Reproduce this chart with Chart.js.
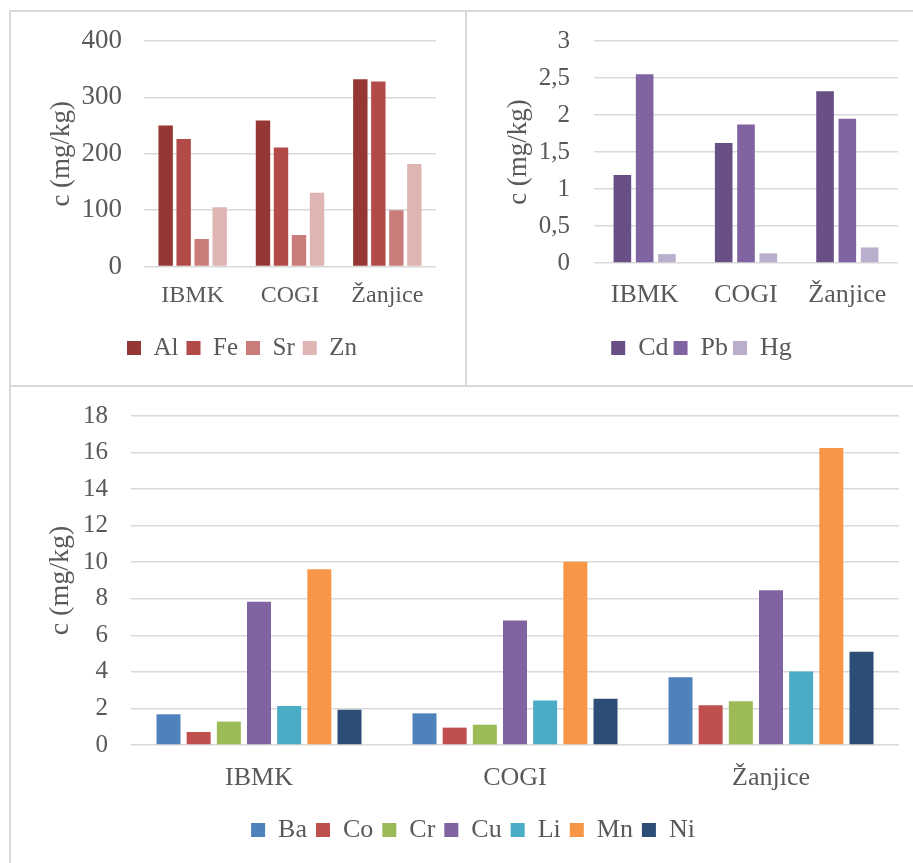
<!DOCTYPE html>
<html><head><meta charset="utf-8">
<script src="https://cdn.jsdelivr.net/npm/chart.js@4.4.1/dist/chart.umd.min.js"></script>
<style>
html,body{margin:0;padding:0;background:#fff;width:913px;height:863px;overflow:hidden;position:relative}
canvas{position:absolute}
.ln{position:absolute;background:#D9D9D9}
</style></head><body>
<canvas id="cA" width="456" height="375" style="left:10px;top:11px;width:456px;height:375px"></canvas>
<canvas id="cB" width="447" height="375" style="left:466px;top:11px;width:447px;height:375px"></canvas>
<canvas id="cC" width="903" height="477" style="left:10px;top:386px;width:903px;height:477px"></canvas>
<div class="ln" style="left:9px;top:10px;width:904px;height:2px"></div>
<div class="ln" style="left:9px;top:10px;width:2px;height:853px"></div>
<div class="ln" style="left:465px;top:10px;width:2px;height:377px"></div>
<div class="ln" style="left:9px;top:385px;width:904px;height:2px"></div>
<script>
// ---- data ----
const sites = ['IBMK', 'COGI', 'Žanjice'];
const yTitle = 'c (mg/kg)';

// chart A (major elements)
const Al = [250, 259, 332];
const Fe = [226, 211, 328];
const Sr = [49, 56, 100];
const Zn = [105, 131, 182];
const ticksA = ['0', '100', '200', '300', '400'];

// chart B (toxic metals)
const Cd = [1.19, 1.62, 2.32];
const Pb = [2.55, 1.87, 1.95];
const Hg = [0.12, 0.13, 0.21];
const ticksB = ['0', '0,5', '1', '1,5', '2', '2,5', '3'];

// chart C (trace elements)
const Ba = [1.68, 1.73, 3.71];
const Co = [0.71, 0.95, 2.17];
const Cr = [1.28, 1.11, 2.39];
const Cu = [7.84, 6.81, 8.46];
const Li = [2.13, 2.44, 4.02];
const Mn = [9.61, 10.03, 16.25];
const Ni = [1.93, 2.53, 5.10];
const ticksC = ['0', '2', '4', '6', '8', '10', '12', '14', '16', '18'];

// ---- styling ----
const FONT = "'Liberation Serif', 'Times New Roman', serif";
const TXT = '#595959';
const GRID = '#D9D9D9';

function yScale(max, step, labels, tickSize, tickPad, titleSize, width) {
  return {
    min: 0, max: max,
    ticks: { stepSize: step, autoSkip: false, padding: tickPad, color: TXT,
             font: { family: FONT, size: tickSize },
             callback: (v, i) => labels[i] },
    grid: { color: GRID, lineWidth: 1.5, drawTicks: false },
    border: { display: false },
    title: { display: true, text: yTitle, color: TXT, padding: 0,
             font: { family: FONT, size: titleSize, weight: 'normal', lineHeight: 1 } },
    afterFit: s => { s.width = width; s.paddingTop = 0; s.paddingBottom = 0; }
  };
}
function xScale(size, pad, height) {
  return {
    ticks: { color: TXT, font: { family: FONT, size: size }, padding: pad },
    grid: { display: false, drawTicks: false },
    border: { display: false },
    afterFit: s => { s.height = height; }
  };
}
function make(id, datasets, y, x, legendSize, legendPad, padding, catPct, barPct) {
  new Chart(document.getElementById(id), {
    type: 'bar',
    data: { labels: sites, datasets: datasets },
    options: {
      responsive: false, animation: false, devicePixelRatio: 1,
      layout: { padding: padding },
      datasets: { bar: { categoryPercentage: catPct, barPercentage: barPct, borderWidth: 0 } },
      scales: { x: x, y: y },
      plugins: {
        tooltip: { enabled: false },
        legend: { position: 'bottom',
          labels: { boxWidth: 14, boxHeight: 14, padding: legendPad, color: TXT,
                    font: { family: FONT, size: legendSize } } }
      }
    }
  });
}

make('cA', [
  { label: 'Al', data: Al, backgroundColor: '#953735' },
  { label: 'Fe', data: Fe, backgroundColor: '#B24A48' },
  { label: 'Sr', data: Sr, backgroundColor: '#C97C7A' },
  { label: 'Zn', data: Zn, backgroundColor: '#DFB5B4' }
], yScale(400, 100, ticksA, 27, 22, 27, 96), xScale(24, 15, 61), 25, 8,
{ left: 38, right: 30, top: 30, bottom: 15.5 }, 0.74, 0.8);

make('cB', [
  { label: 'Cd', data: Cd, backgroundColor: '#685086' },
  { label: 'Pb', data: Pb, backgroundColor: '#8064A2' },
  { label: 'Hg', data: Hg, backgroundColor: '#B9AECC' }
], yScale(3, 0.5, ticksB, 25, 24, 27, 89), xScale(26, 17, 67), 26, 5,
{ left: 39, right: 15, top: 30, bottom: 15 }, 0.66, 0.79);

make('cC', [
  { label: 'Ba', data: Ba, backgroundColor: '#4F81BD' },
  { label: 'Co', data: Co, backgroundColor: '#C0504D' },
  { label: 'Cr', data: Cr, backgroundColor: '#9BBB59' },
  { label: 'Cu', data: Cu, backgroundColor: '#8064A2' },
  { label: 'Li', data: Li, backgroundColor: '#4BACC6' },
  { label: 'Mn', data: Mn, backgroundColor: '#F79646' },
  { label: 'Ni', data: Ni, backgroundColor: '#2C4D75' }
], yScale(18, 2, ticksC, 25, 23, 28, 84), xScale(26, 17.5, 63), 26, 9,
{ left: 37, right: 14, top: 30, bottom: 10 }, 0.825, 0.795);
</script>
</body></html>
